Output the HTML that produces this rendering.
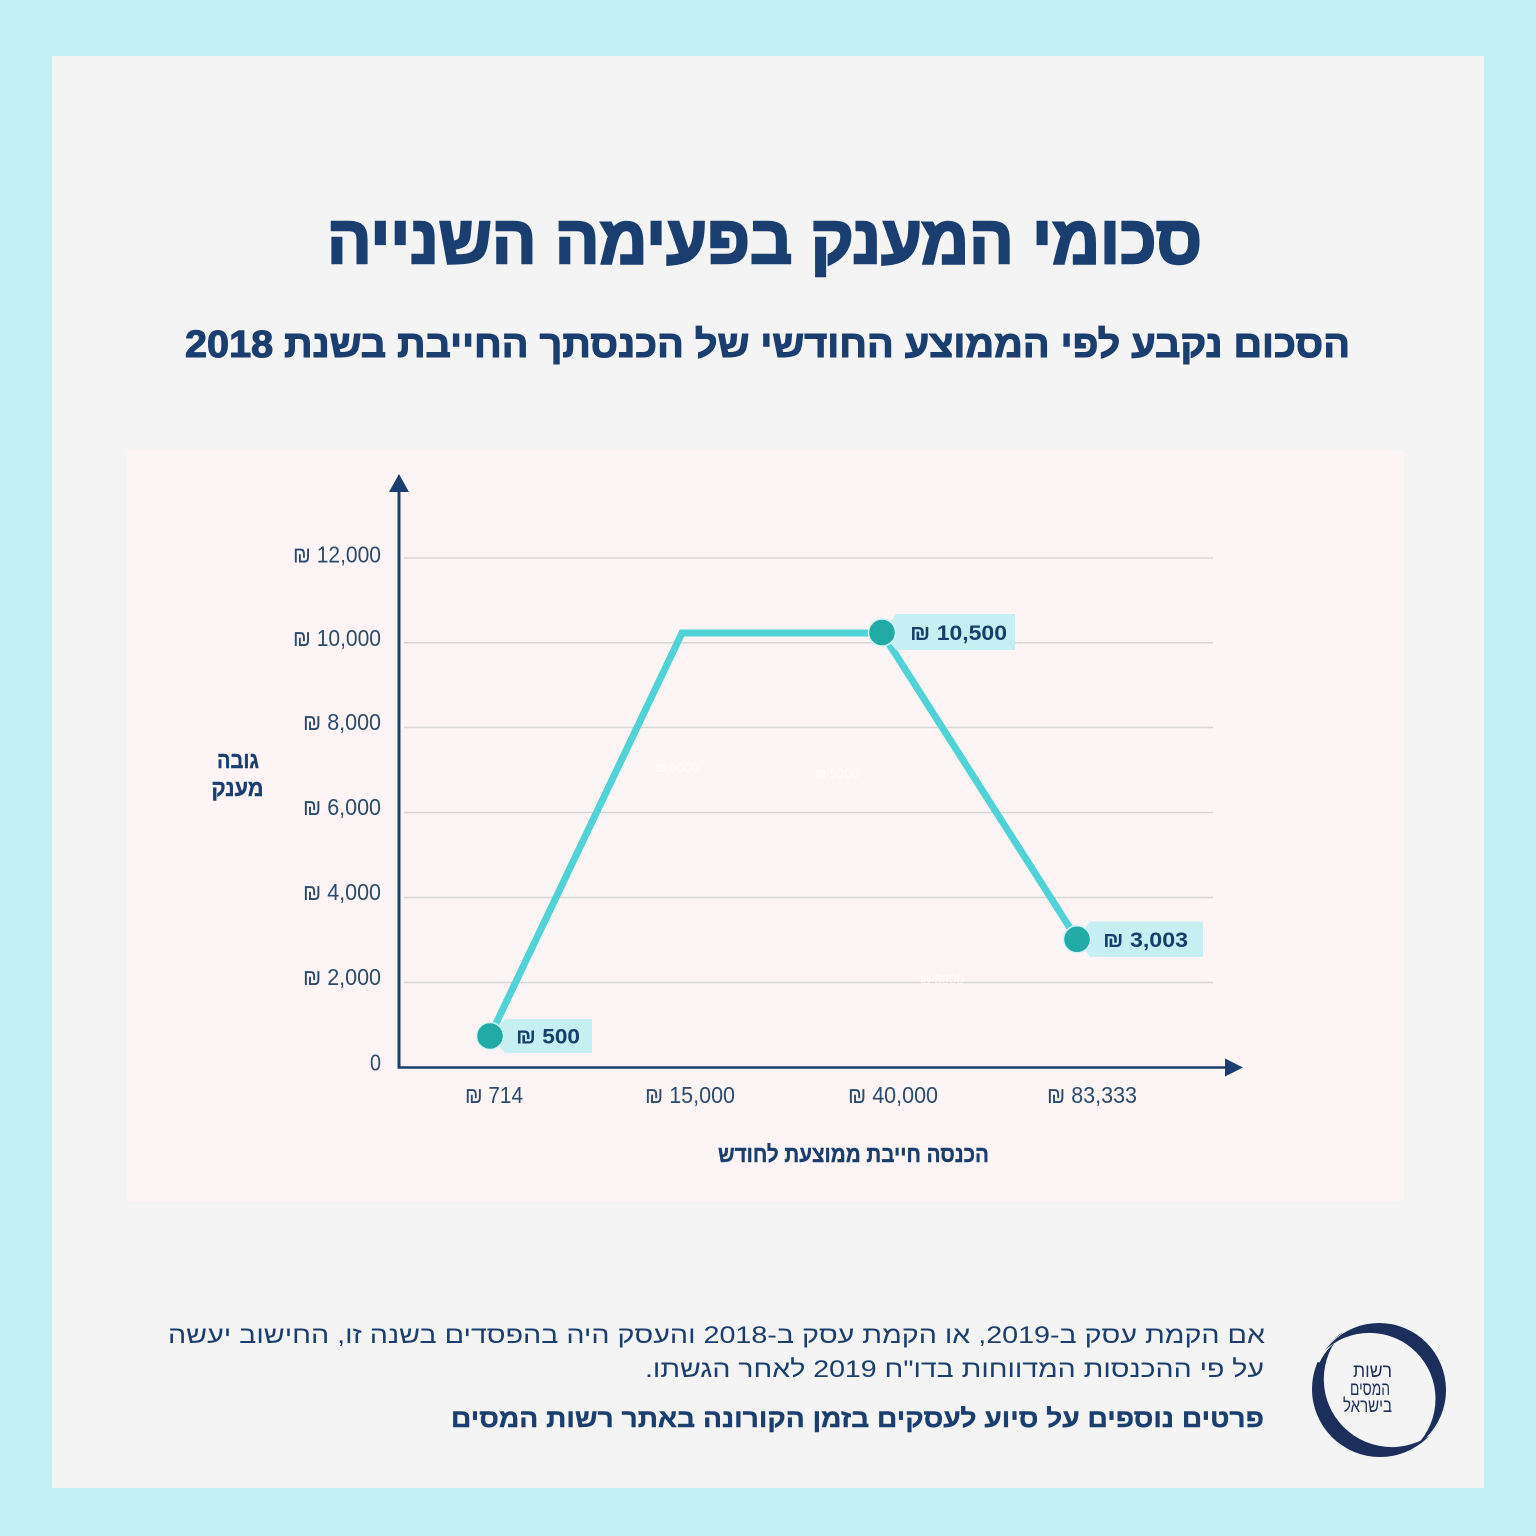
<!DOCTYPE html>
<html>
<head>
<meta charset="utf-8">
<style>
  html,body{margin:0;padding:0;background:#c3f1f3;}
  body{width:1536px;height:1536px;overflow:hidden;}
  svg{display:block;}
  .he{font-family:"Liberation Sans","DejaVu Sans",sans-serif;direction:rtl;unicode-bidi:embed;}
  .lt{font-family:"Liberation Sans","DejaVu Sans",sans-serif;}
</style>
</head>
<body>
<svg width="1536" height="1536" viewBox="0 0 1536 1536" xmlns="http://www.w3.org/2000/svg">
  <defs>
    <mask id="m1" maskUnits="userSpaceOnUse" x="1290" y="1300" width="180" height="180">
      <rect x="1290" y="1300" width="180" height="180" fill="black"/>
      <circle cx="1379" cy="1390" r="67" fill="white"/>
      <circle cx="1369.5" cy="1398.9" r="66" fill="black"/>
    </mask>
    <mask id="m2" maskUnits="userSpaceOnUse" x="1290" y="1300" width="180" height="180">
      <rect x="1290" y="1300" width="180" height="180" fill="black"/>
      <circle cx="1380" cy="1389" r="68" fill="white"/>
      <circle cx="1391.8" cy="1379.1" r="68" fill="black"/>
    </mask>
  </defs>
  <!-- backgrounds -->
  <rect x="0" y="0" width="1536" height="1536" fill="#c3f1f3"/>
  <rect x="52" y="56" width="1432" height="1432" fill="#f4f4f4"/>
  <rect x="127" y="450" width="1277" height="751" fill="#fdf5f5"/>

  <!-- title -->
  <text class="he" direction="rtl" x="764.5" y="263" text-anchor="middle" font-size="68" font-weight="bold" fill="#1a3e6f" stroke="#1a3e6f" stroke-width="2.4" textLength="875" lengthAdjust="spacingAndGlyphs">סכומי המענק בפעימה השנייה</text>
  <!-- subtitle -->
  <text class="he" direction="rtl" x="767.5" y="357" text-anchor="middle" font-size="38" font-weight="bold" fill="#1a3e6f" stroke="#1a3e6f" stroke-width="1.1" textLength="1165" lengthAdjust="spacingAndGlyphs">הסכום נקבע לפי הממוצע החודשי של הכנסתך החייבת בשנת 2018</text>

  <!-- gridlines -->
  <g stroke="#d9d5d7" stroke-width="1.5">
    <line x1="404" y1="558" x2="1213" y2="558"/>
    <line x1="404" y1="642.7" x2="1213" y2="642.7"/>
    <line x1="404" y1="727.5" x2="1213" y2="727.5"/>
    <line x1="404" y1="812.5" x2="1213" y2="812.5"/>
    <line x1="404" y1="897.5" x2="1213" y2="897.5"/>
    <line x1="404" y1="982.5" x2="1213" y2="982.5"/>
  </g>

  <!-- axes -->
  <line x1="399" y1="488" x2="399" y2="1068.5" stroke="#1a3e6f" stroke-width="3"/>
  <polygon points="389,492 409,492 399,474" fill="#1a3e6f"/>
  <line x1="397.5" y1="1067.5" x2="1228" y2="1067.5" stroke="#1a3e6f" stroke-width="2.6"/>
  <polygon points="1225,1058.5 1225,1076.5 1243,1067.5" fill="#1a3e6f"/>

  <!-- y tick labels -->
  <g class="lt" font-size="23" fill="#2b4a6d" text-anchor="end">
    <text x="381" y="562.5" textLength="88" lengthAdjust="spacingAndGlyphs">₪ 12,000</text>
    <text x="381" y="646" textLength="88" lengthAdjust="spacingAndGlyphs">₪ 10,000</text>
    <text x="381" y="730" textLength="78" lengthAdjust="spacingAndGlyphs">₪ 8,000</text>
    <text x="381" y="815" textLength="78" lengthAdjust="spacingAndGlyphs">₪ 6,000</text>
    <text x="381" y="900" textLength="78" lengthAdjust="spacingAndGlyphs">₪ 4,000</text>
    <text x="381" y="985" textLength="78" lengthAdjust="spacingAndGlyphs">₪ 2,000</text>
    <text x="381" y="1070.5" textLength="11" lengthAdjust="spacingAndGlyphs">0</text>
  </g>

  <!-- x tick labels -->
  <g class="lt" font-size="23" fill="#2b4a6d" text-anchor="middle">
    <text x="494" y="1103" textLength="58" lengthAdjust="spacingAndGlyphs">₪ 714</text>
    <text x="690" y="1103" textLength="90" lengthAdjust="spacingAndGlyphs">₪ 15,000</text>
    <text x="893" y="1103" textLength="90" lengthAdjust="spacingAndGlyphs">₪ 40,000</text>
    <text x="1092" y="1103" textLength="90" lengthAdjust="spacingAndGlyphs">₪ 83,333</text>
  </g>

  <!-- axis titles -->
  <text class="he" direction="rtl" x="853.5" y="1162" text-anchor="middle" font-size="23" font-weight="bold" fill="#1a3e6f" stroke="#1a3e6f" stroke-width="0.4" textLength="271" lengthAdjust="spacingAndGlyphs">הכנסה חייבת ממוצעת לחודש</text>
  <text class="he" direction="rtl" x="238" y="768" text-anchor="middle" font-size="23" font-weight="bold" fill="#1a3e6f" stroke="#1a3e6f" stroke-width="0.4" textLength="42" lengthAdjust="spacingAndGlyphs">גובה</text>
  <text class="he" direction="rtl" x="237.5" y="796" text-anchor="middle" font-size="23" font-weight="bold" fill="#1a3e6f" stroke="#1a3e6f" stroke-width="0.4" textLength="52" lengthAdjust="spacingAndGlyphs">מענק</text>

  <!-- faint hidden labels -->
  <g class="lt" font-size="13" fill="#ffffff" opacity="0.75">
    <text x="655" y="772">₪ 5000</text>
    <text x="815" y="778">₪ 5000</text>
    <text x="920" y="984">₪ 3000</text>
  </g>

  <!-- data line -->
  <polyline points="490,1036 682,633 882,633 1077,939" fill="none" stroke="#50d3d6" stroke-width="7" stroke-linejoin="miter"/>

  <!-- value labels -->
  <polygon points="505,1019 592,1019 592,1053 505,1053 490,1036" fill="#c6eff3"/>
  <polygon points="896,614 1015,614 1015,650 896,650 882,633" fill="#c6eff3"/>
  <polygon points="1090,921.5 1203,921.5 1203,957 1090,957 1077,939" fill="#c6eff3"/>

  <!-- markers -->
  <g fill="#22aba6" stroke="#d2f4f5" stroke-width="1.5">
    <circle cx="490" cy="1036" r="13.5"/>
    <circle cx="882" cy="632.5" r="13.5"/>
    <circle cx="1077" cy="939.3" r="13.5"/>
  </g>

  <g class="lt" font-size="21" font-weight="bold" fill="#163f6d">
    <text x="516" y="1043.5" textLength="64" lengthAdjust="spacingAndGlyphs">₪ 500</text>
    <text x="910" y="640" textLength="97" lengthAdjust="spacingAndGlyphs">₪ 10,500</text>
    <text x="1103" y="947" textLength="85" lengthAdjust="spacingAndGlyphs">₪ 3,003</text>
  </g>

  <!-- bottom text -->
  <text class="he" direction="rtl" x="716.5" y="1343" text-anchor="middle" font-size="24" fill="#1a3e6f" textLength="1097" lengthAdjust="spacingAndGlyphs">אם הקמת עסק ב-2019, או הקמת עסק ב-2018 והעסק היה בהפסדים בשנה זו,  החישוב יעשה</text>
  <text class="he" direction="rtl" x="954.5" y="1377" text-anchor="middle" font-size="24" fill="#1a3e6f" textLength="619" lengthAdjust="spacingAndGlyphs">על פי ההכנסות המדווחות בדו"ח 2019 לאחר הגשתו.</text>
  <text class="he" direction="rtl" x="857.5" y="1427" text-anchor="middle" font-size="25.5" font-weight="bold" fill="#1a3e6f" stroke="#1a3e6f" stroke-width="0.4" textLength="813" lengthAdjust="spacingAndGlyphs">פרטים נוספים על סיוע לעסקים בזמן הקורונה באתר רשות המסים</text>

  <!-- logo -->
  <rect x="1290" y="1300" width="180" height="180" fill="#1c2e5c" mask="url(#m2)"/>
  <path d="M 1318 1362 A 66 66 0 0 1 1346 1333" fill="none" stroke="#f4f4f4" stroke-width="3"/>
  <rect x="1290" y="1300" width="180" height="180" fill="#1c2e5c" mask="url(#m1)"/>
  <g class="he" direction="rtl" font-size="19" fill="#1c2e5c" text-anchor="middle">
    <text x="1372.5" y="1377" textLength="39" lengthAdjust="spacingAndGlyphs">רשות</text>
    <text x="1370" y="1395" textLength="40" lengthAdjust="spacingAndGlyphs">המסים</text>
    <text x="1367.5" y="1412" textLength="49" lengthAdjust="spacingAndGlyphs">בישראל</text>
  </g>
</svg>
</body>
</html>
